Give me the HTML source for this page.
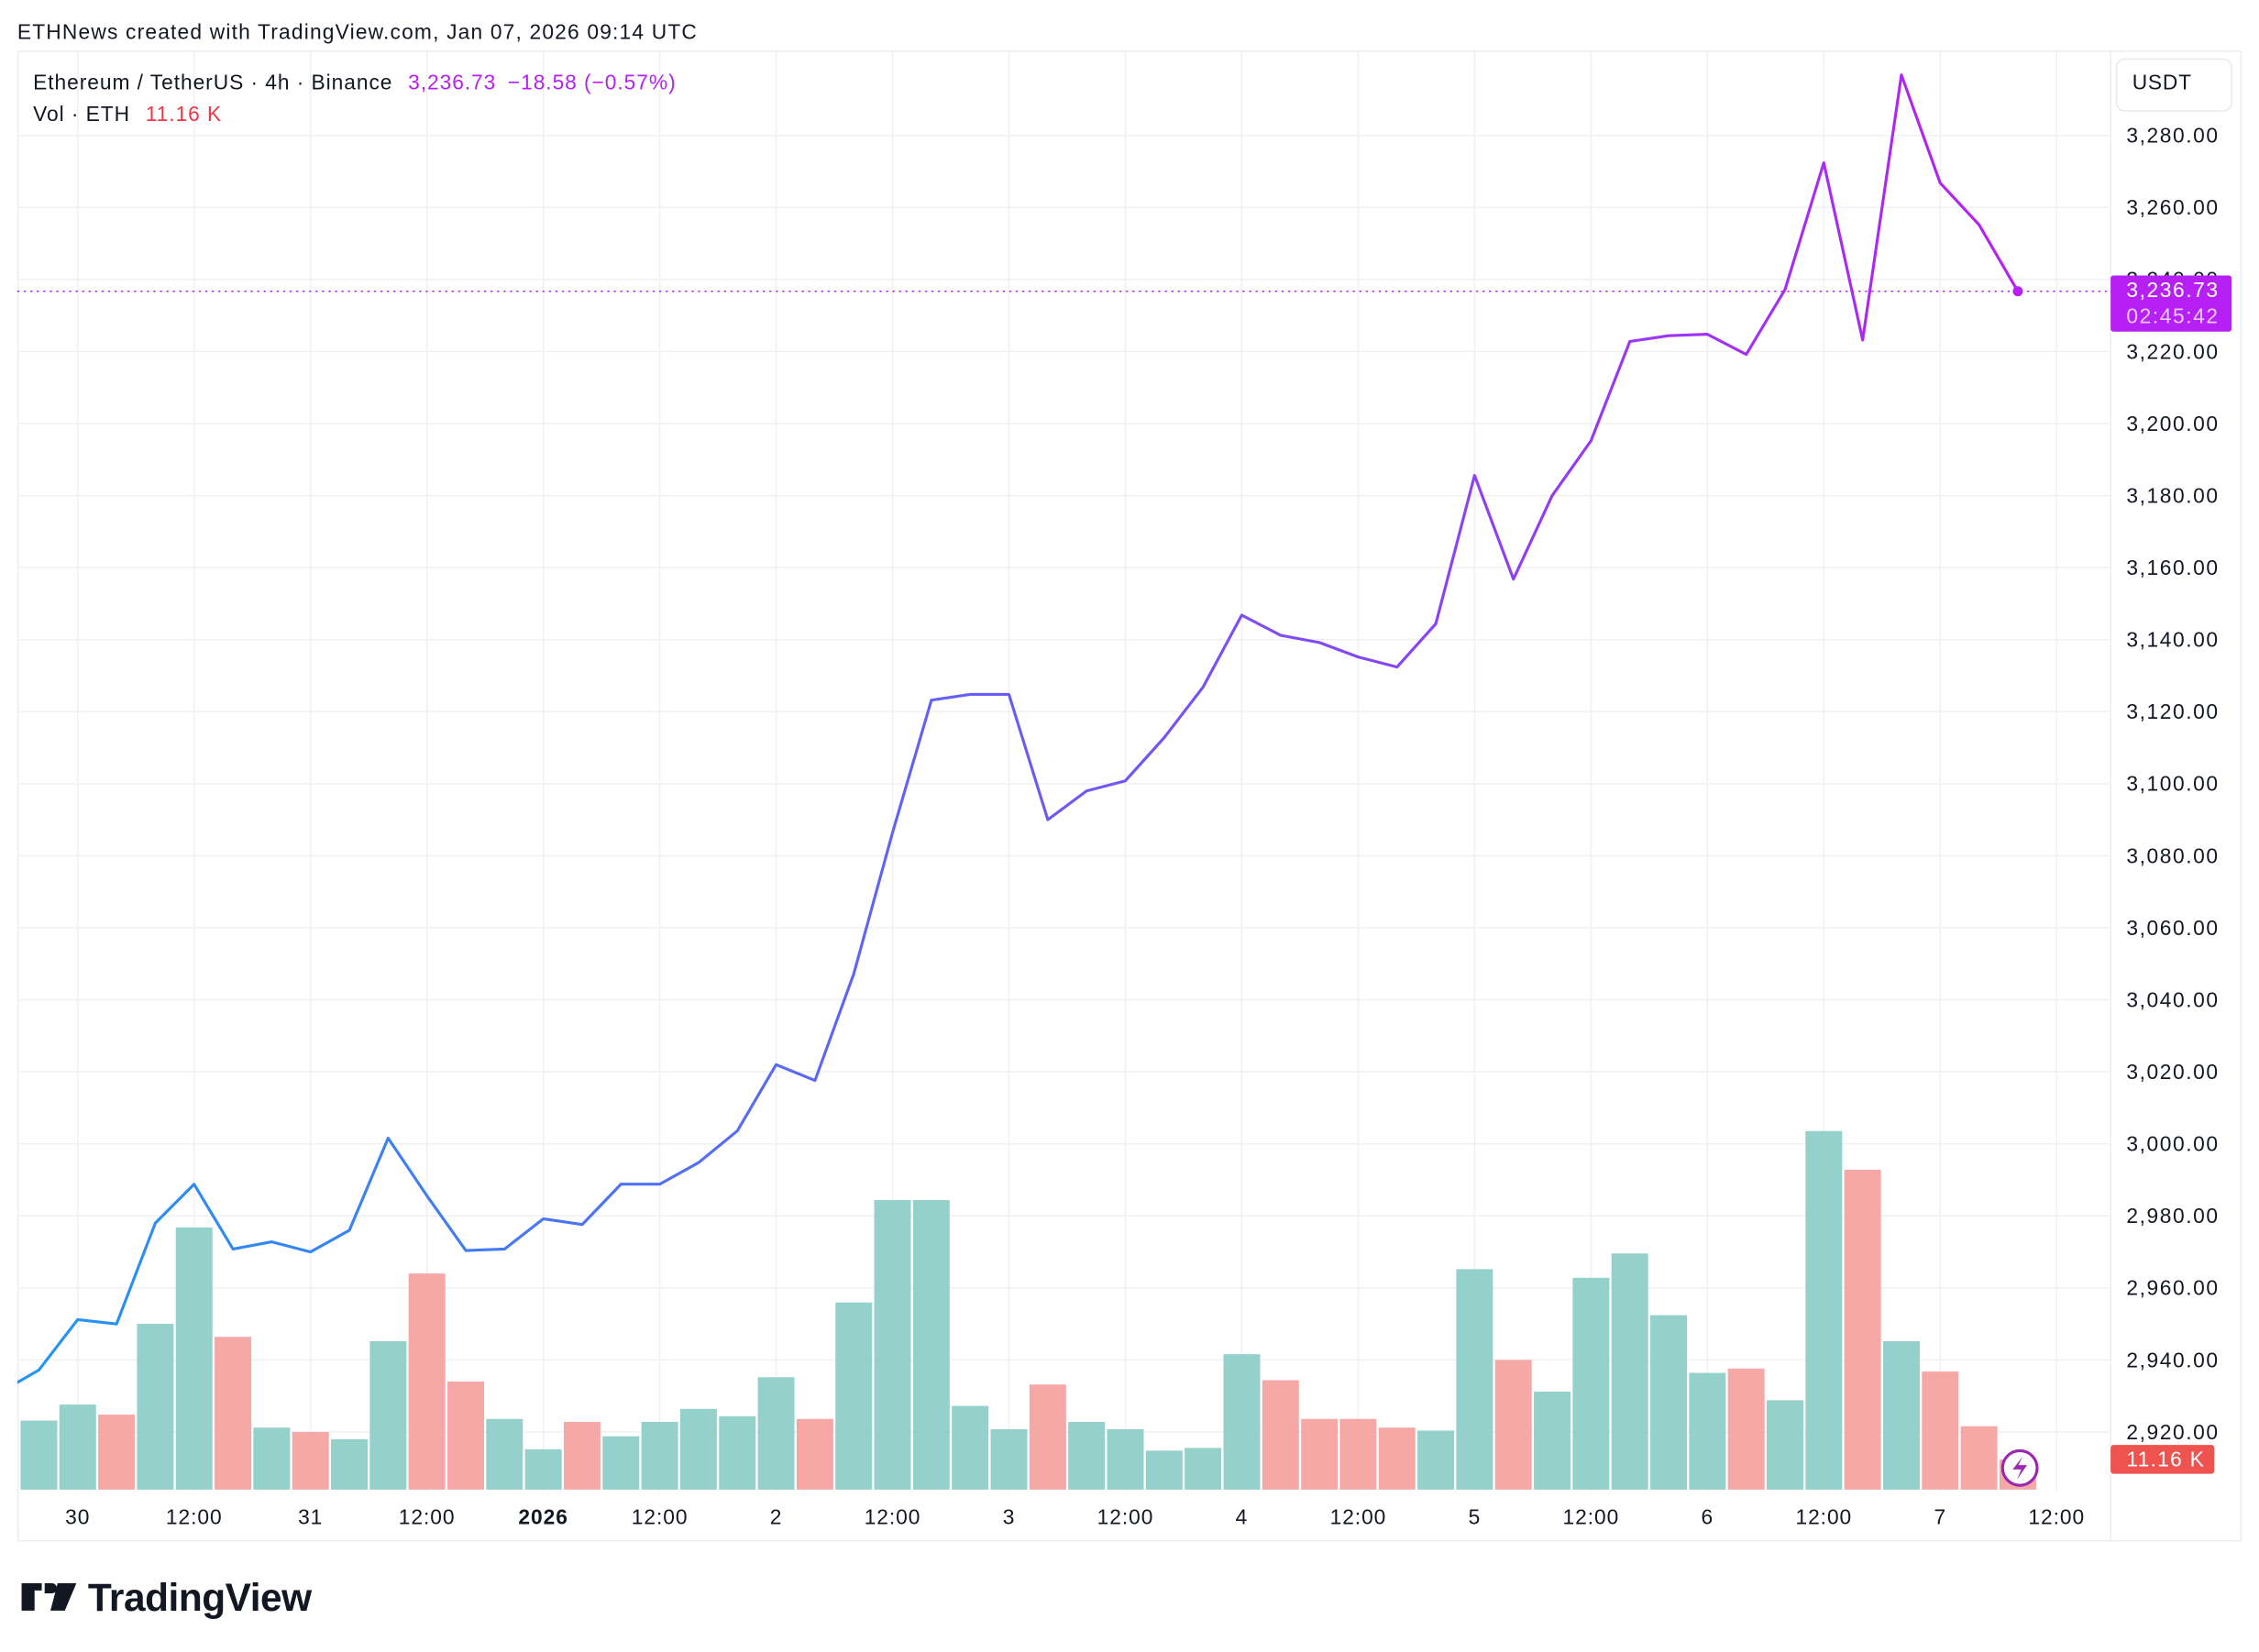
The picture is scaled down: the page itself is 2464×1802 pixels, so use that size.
<!DOCTYPE html>
<html><head><meta charset="utf-8">
<style>
html,body{margin:0;padding:0;background:#fff;}
svg{display:block;font-family:"Liberation Sans",Arial,sans-serif;}
</style></head>
<body>
<svg id="chart" width="2464" height="1802" viewBox="0 0 1568 1146.7" xmlns="http://www.w3.org/2000/svg">
<defs>
<linearGradient id="lg" gradientUnits="userSpaceOnUse" x1="0" y1="0" x2="1400" y2="0">
<stop offset="0" stop-color="#2196F3"/><stop offset="0.5" stop-color="#6a5cf6"/><stop offset="1" stop-color="#b620f5"/>
</linearGradient>
<clipPath id="pane"><rect x="12" y="35" width="1453" height="1000"/></clipPath>
</defs>
<rect width="1568" height="1147" fill="#fff"/>
<text x="12" y="27" font-size="14.5" letter-spacing="0.75" fill="#131722">ETHNews created with TradingView.com, Jan 07, 2026 09:14 UTC</text>
<rect x="12.5" y="35.5" width="1543" height="1034" fill="none" stroke="#eceef2"/>
<line x1="1465" y1="35" x2="1465" y2="1070" stroke="#eceef2"/>
<g id="grid"></g>
<g id="vol" clip-path="url(#pane)"></g>
<g id="line" clip-path="url(#pane)"></g>
<g id="axis"></g>
<g id="taxis"></g>
<rect x="1469" y="41" width="80" height="36" rx="6" fill="#fff" stroke="#e8eaee"/>
<text x="1480" y="62" font-size="14.5" letter-spacing="0.5" fill="#131722">USDT</text>
<text x="23" y="62" font-size="14.5" letter-spacing="0.6" fill="#131722">Ethereum / TetherUS · 4h · Binance <tspan fill="#b620f5" dx="6">3,236.73</tspan><tspan fill="#b620f5" dx="8">−18.58 (−0.57%)</tspan></text>
<text x="23" y="84" font-size="14.5" letter-spacing="0.6" fill="#131722">Vol · ETH <tspan fill="#f23645" dx="6">11.16 K</tspan></text>
<g>
<path d="M15 1099h14v5h-5v14h-9z M31 1099h5v0 a3 3 0 0 1 0 7 h-5z M40 1099h13l-8 19h-10z" fill="#131722"/>
<text x="61" y="1118" font-size="27" font-weight="bold" fill="#131722" letter-spacing="-0.3">TradingView</text>
</g>
</svg>
<script>
const prices=[2931,2937.2,2951.2,2950,2978,2988.8,2970.8,2972.8,2970,2976,3001.6,2985.6,2970.4,2970.8,2979.2,2977.6,2988.8,2988.8,2994.8,3003.6,3022,3017.6,3047.2,3086.4,3123.2,3124.8,3124.8,3090,3098,3100.8,3112.8,3126.8,3146.8,3141.2,3139.2,3135.2,3132.4,3144.4,3185.6,3156.8,3180,3195.2,3222.8,3224.4,3224.8,3219.2,3237.2,3272.4,3223.2,3296.8,3266.8,3255.2,3236.73];
const volumes=[25.5,31.4,27.7,61.2,96.8,56.4,22.9,21.3,18.6,54.8,79.8,39.9,26.1,14.9,25,19.7,25,29.8,27.1,41.5,26.1,69.1,106.9,106.9,30.9,22.3,38.8,25,22.3,14.4,15.4,50,40.4,26.1,26.1,22.9,21.8,81.4,47.9,36.2,78.2,87.2,64.4,43.1,44.7,33,132.4,118.1,54.8,43.6,23.4,11.16];
const volUp=[1,1,0,1,1,0,1,0,1,1,0,0,1,1,0,1,1,1,1,1,0,1,1,1,1,1,0,1,1,1,1,1,0,0,0,0,1,1,0,1,1,1,1,1,0,1,1,0,1,0,0,0];
const priceTicks=[2920,2940,2960,2980,3000,3020,3040,3060,3080,3100,3120,3140,3160,3180,3200,3220,3240,3260,3280];
const timeLabels=["30","12:00","31","12:00","2026","12:00","2","12:00","3","12:00","4","12:00","5","12:00","6","12:00","7","12:00"];
const NS="http://www.w3.org/2000/svg";
const barW=80.8/3;
const xOf=i=>27+barW*i;
const yP=p=>94+(3280-p)*2.5;
const yV=v=>1034-v*1.88;
function mk(tag,attrs,parent){const e=document.createElementNS(NS,tag);for(const k in attrs)e.setAttribute(k,attrs[k]);parent.appendChild(e);return e;}
const grid=document.getElementById('grid'),axis=document.getElementById('axis'),taxis=document.getElementById('taxis');
priceTicks.forEach(p=>{
  const l=mk('line',{x1:12,x2:1465,y1:yP(p),y2:yP(p),stroke:'#f0f1f4'},grid);
  
  
  const t=mk('text',{x:1476,y:yP(p)+5,'font-size':14.5,'letter-spacing':1,fill:'#131722'},axis);
  
  
  t.textContent=p.toLocaleString('en-US',{minimumFractionDigits:2});
});
timeLabels.forEach((s,k)=>{
  const x=xOf(1+3*k);
  const l=mk('line',{x1:x,x2:x,y1:35,y2:1035,stroke:'#f0f1f4'},grid);
  
  
  const t=mk('text',{x:x,y:1058,'font-size':14.5,'letter-spacing':0.6,fill:'#131722','text-anchor':'middle','font-weight':s==='2026'?'bold':'normal'},taxis);
  
  
  t.textContent=s;
});
const vol=document.getElementById('vol');
volumes.forEach((v,i)=>{
  const r=mk('rect',{x:xOf(i)-barW/2+0.75,y:yV(v),width:barW-1.5,height:1034-yV(v),fill:volUp[i]?'#93d1ca':'#f6a8a7'},vol);
  
  
});
const lg=document.getElementById('line');
const pts=prices.map((p,k)=>xOf(k-1).toFixed(1)+','+yP(p).toFixed(1)).join(' ');
const pl=mk('polyline',{points:pts,fill:'none',stroke:'url(#lg)','stroke-width':2,'stroke-linejoin':'round'},lg);


const last=prices[prices.length-1],lx=xOf(prices.length-2);
const svg=document.getElementById('chart');
const dl=mk('line',{x1:12,x2:1465,y1:yP(last),y2:yP(last),stroke:'#b620f5','stroke-dasharray':'1.5 3'},svg);


const dot=mk('circle',{cx:lx,cy:yP(last),r:3.5,fill:'#b620f5'},svg);


const pb=mk('rect',{x:1465,y:yP(last)-11,width:84,height:39,rx:2,fill:'#b620f5'},svg);


const pt=mk('text',{x:1476,y:yP(last)+4,'font-size':14.5,'letter-spacing':1,fill:'#fff'},svg);pt.textContent='3,236.73';


const ct=mk('text',{x:1476,y:yP(last)+22,'font-size':14.5,'letter-spacing':1,fill:'#eac8fc'},svg);ct.textContent='02:45:42';


const vb=mk('rect',{x:1465,y:1003,width:72,height:20,rx:2,fill:'#ef5350'},svg);


const vt=mk('text',{x:1476,y:1018,'font-size':14.5,'letter-spacing':0.8,fill:'#fff'},svg);vt.textContent='11.16 K';


const ic=mk('g',{},svg);


mk('circle',{cx:1402,cy:1019,r:12,fill:'#fff',stroke:'#9c27b0','stroke-width':2},ic);
mk('path',{d:'M1404 1011 L1397 1020 L1403 1020 L1400 1027 L1407 1017 L1401 1017 Z',fill:'#9c27b0'},ic);
</script>
</body></html>
